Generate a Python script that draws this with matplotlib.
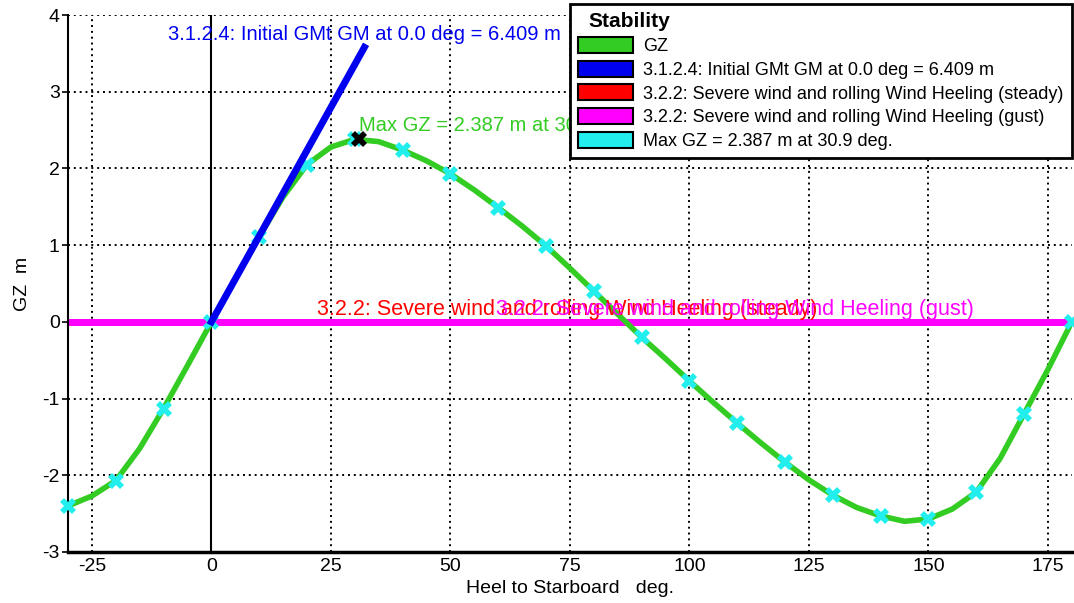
import numpy as np
import matplotlib.pyplot as plt
from matplotlib.patches import Patch

# data
heel = [-30, -25, -20, -15, -10, -5, 0, 5, 10, 15, 20, 25, 30, 35, 40, 45, 50, 55, 60, 65, 70,
        75, 80, 85, 90, 95, 100, 105, 110, 115, 120, 125, 130, 135, 140, 145, 150, 155, 160, 165, 170, 175, 180]
gz = [-2.40, -2.27, -2.07, -1.65, -1.13, -0.57, 0.0, 0.56, 1.11, 1.63, 2.05, 2.28, 2.38, 2.35, 2.24, 2.10, 1.93, 1.72, 1.49, 1.25, 0.99,
      0.70, 0.40, 0.10, -0.20, -0.48, -0.77, -1.05, -1.32, -1.58, -1.83, -2.06, -2.26, -2.42, -2.53, -2.60, -2.57, -2.44, -2.22, -1.78, -1.20, -0.62, 0.0]
mark_heel = [-30, -20, -10, 0, 10, 20, 30, 40, 50, 60, 70, 80, 90, 100, 110, 120, 130, 140, 150, 160, 170, 180]
max_heel = 30.9
max_gz = 2.387
gm = 6.409
gm_end = 32.0
wind_steady = 0.0
wind_gust = 0.0

green = '#33cc22'
cyan = '#22eeee'

plt.rcParams['font.family'] = ['Liberation Sans', 'DejaVu Sans']
plt.rcParams['axes.unicode_minus'] = False

fig = plt.figure(figsize=(10.74, 6.03), dpi=100)
ax = fig.add_axes([0.0633, 0.0846, 0.9347, 0.8904])

ax.grid(True, color='black', linestyle=(0, (1, 2)), linewidth=1.4)
ax.set_axisbelow(True)
ax.axvline(0, color='black', linewidth=1.5, zorder=1)

# wind heeling lines
ax.plot([-30, 180], [wind_steady, wind_steady], color='red', linewidth=5, zorder=2)
ax.plot([-30, 180], [wind_gust, wind_gust], color='magenta', linewidth=5, zorder=2)

# GZ curve
ax.plot(heel, gz, color=green, linewidth=4, zorder=3)
mk = [gz[heel.index(h)] for h in mark_heel]
ax.plot(mark_heel, mk, linestyle='none', marker='X', markersize=11, color=cyan,
        markeredgewidth=0, zorder=4, clip_on=False)
ax.plot([max_heel], [max_gz], linestyle='none', marker='X', markersize=11, color='black',
        markeredgewidth=0, zorder=5)

# initial GM line
ax.plot([0, gm_end], [0, gm * np.radians(gm_end)], color='#0000ee', linewidth=5, zorder=4)

ax.text(gm_end, gm * np.radians(gm_end) + 0.04, '3.1.2.4: Initial GMt GM at 0.0 deg = 6.409 m',
        color='#0000ee', fontsize=14.5, ha='center', va='bottom', zorder=6)
ax.text(max_heel, max_gz + 0.05, 'Max GZ = 2.387 m at 30.9 deg.', color=green,
        fontsize=14.5, ha='left', va='bottom', zorder=6)
ax.text(22, 0.03, '3.2.2: Severe wind and rolling Wind Heeling (steady)', color='red',
        fontsize=15.5, ha='left', va='bottom', zorder=6)
ax.text(59.5, 0.03, '3.2.2: Severe wind and rolling Wind Heeling (gust)', color='magenta',
        fontsize=15.5, ha='left', va='bottom', zorder=6)

ax.set_xlim(-30, 180)
ax.set_ylim(-3, 4)
ax.set_xticks([-25, 0, 25, 50, 75, 100, 125, 150, 175])
ax.set_yticks([-3, -2, -1, 0, 1, 2, 3, 4])
ax.tick_params(axis='both', labelsize=14, length=4, width=1.2, direction='out')
ax.tick_params(axis='x', length=0, pad=4)
ax.tick_params(axis='y', pad=2)

ax.spines['top'].set_visible(False)
ax.spines['right'].set_visible(False)
ax.spines['left'].set_linewidth(1.5)
ax.spines['bottom'].set_linewidth(2.5)

ax.set_xlabel('Heel to Starboard   deg.', fontsize=14, labelpad=4)
ax.set_ylabel('GZ  m', fontsize=14, labelpad=8)

handles = [
    Patch(facecolor=green, edgecolor='black', linewidth=1.5, label='GZ'),
    Patch(facecolor='#0000ee', edgecolor='black', linewidth=1.5, label='3.1.2.4: Initial GMt GM at 0.0 deg = 6.409 m'),
    Patch(facecolor='red', edgecolor='black', linewidth=1.5, label='3.2.2: Severe wind and rolling Wind Heeling (steady)'),
    Patch(facecolor='magenta', edgecolor='black', linewidth=1.5, label='3.2.2: Severe wind and rolling Wind Heeling (gust)'),
    Patch(facecolor=cyan, edgecolor='black', linewidth=1.5, label='Max GZ = 2.387 m at 30.9 deg.'),
]
leg = ax.legend(handles=handles, title='Stability', loc='upper right', bbox_to_anchor=(1.0, 1.02),
                fontsize=13, title_fontproperties={'weight': 'bold', 'size': 15},
                fancybox=False, framealpha=1, edgecolor='black', handlelength=3.0, handleheight=1.0,
                handletextpad=0.6, labelspacing=0.3, borderpad=0.45, borderaxespad=0)
leg._legend_box.align = 'left'
leg.get_title().set_position((10, 0))
leg.get_frame().set_linewidth(2)
leg.set_zorder(10)

fig.savefig('out.png', dpi=100)
